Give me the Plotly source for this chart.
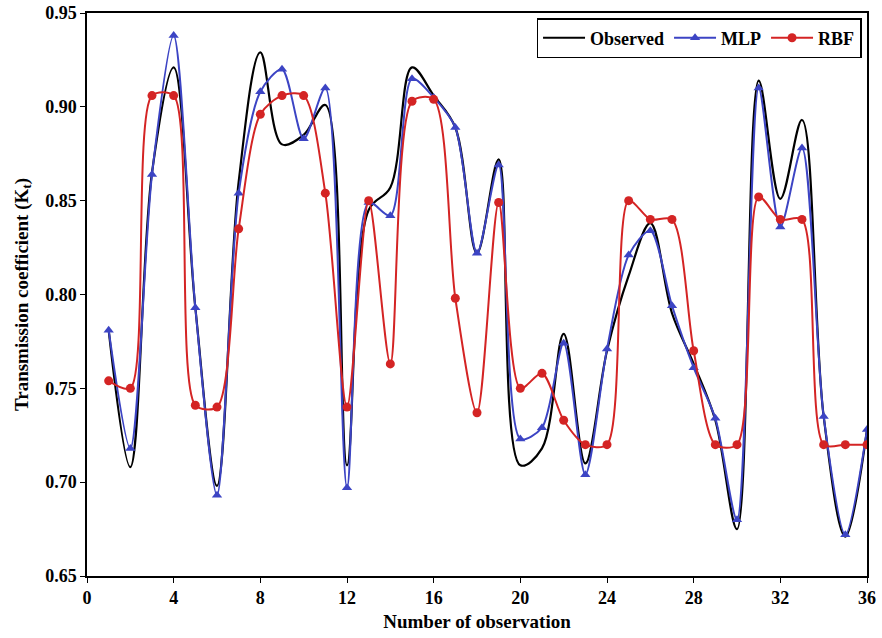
import plotly.graph_objects as go

obs_x = list(range(1, 37))
observed = [0.781, 0.708, 0.865, 0.921, 0.793, 0.698, 0.860, 0.929, 0.880, 0.885,
            0.901, 0.709, 0.845, 0.857, 0.921, 0.906, 0.889, 0.822, 0.872, 0.709,
            0.718, 0.779, 0.710, 0.770, 0.810, 0.838, 0.790, 0.763, 0.733, 0.675,
            0.914, 0.851, 0.893, 0.735, 0.671, 0.728]
mlp = [0.781, 0.718, 0.864, 0.938, 0.793, 0.693, 0.854, 0.908, 0.920, 0.883,
       0.910, 0.697, 0.849, 0.842, 0.915, 0.905, 0.889, 0.822, 0.869, 0.723,
       0.729, 0.774, 0.704, 0.771, 0.821, 0.834, 0.794, 0.761, 0.734, 0.680,
       0.910, 0.836, 0.878, 0.735, 0.672, 0.728]
rbf = [0.754, 0.750, 0.906, 0.906, 0.741, 0.740, 0.835, 0.896, 0.906, 0.906,
       0.854, 0.740, 0.850, 0.763, 0.903, 0.904, 0.798, 0.737, 0.849, 0.750,
       0.758, 0.733, 0.720, 0.720, 0.850, 0.840, 0.840, 0.770, 0.720, 0.720,
       0.852, 0.840, 0.840, 0.720, 0.720, 0.720]

y_ticks = [0.65, 0.70, 0.75, 0.80, 0.85, 0.90, 0.95]
x_ticks = list(range(0, 37, 4))

FONT = "Liberation Serif"
fig = go.Figure()
fig.add_trace(go.Scatter(x=obs_x, y=observed, mode="lines", name="<b>Observed</b>",
                         line=dict(color="black", width=2.2, shape="spline", smoothing=1.0)))
fig.add_trace(go.Scatter(x=obs_x, y=mlp, mode="lines+markers", name="<b>MLP</b>",
                         line=dict(color="#3c44c4", width=2, shape="spline", smoothing=0.8),
                         marker=dict(symbol="triangle-up", size=9, color="#3c44c4")))
fig.add_trace(go.Scatter(x=obs_x, y=rbf, mode="lines+markers", name="<b>RBF</b>",
                         line=dict(color="#d42424", width=2, shape="spline", smoothing=0.8),
                         marker=dict(symbol="circle", size=9, color="#d42424")))

fig.update_layout(
    width=882, height=638,
    margin=dict(l=87, r=15, t=13, b=62, autoexpand=False),
    paper_bgcolor="white", plot_bgcolor="white",
    font=dict(family=FONT, size=18, color="black"),
    showlegend=True,
    legend=dict(orientation="h", x=0.993, xanchor="right", y=0.991, yanchor="top",
                bordercolor="black", borderwidth=1.5, bgcolor="white",
                font=dict(family=FONT, size=18, color="black"),
                itemwidth=42, tracegroupgap=0),
    xaxis=dict(range=[0, 36], tickvals=x_ticks, ticktext=[f"<b>{v}</b>" for v in x_ticks],
               showgrid=False, zeroline=False, showline=True, linecolor="black", linewidth=1.5,
               mirror=True, ticks="outside", ticklen=5, tickcolor="black", automargin=False,
               tickfont=dict(family=FONT, size=18),
               title=dict(text="<b>Number of observation</b>", font=dict(family=FONT, size=19),
                          standoff=7)),
    yaxis=dict(range=[0.65, 0.95], tickvals=y_ticks, ticktext=[f"<b>{v:.2f}</b>" for v in y_ticks],
               showgrid=False, zeroline=False, showline=True, linecolor="black", linewidth=1.5,
               mirror=True, ticks="outside", ticklen=5, tickcolor="black", automargin=False,
               tickfont=dict(family=FONT, size=18),
               title=dict(text="<b>Transmission coefficient (K<sub>t</sub>)</b>",
                          font=dict(family=FONT, size=19), standoff=12)),
)

fig.write_html("out.html")
